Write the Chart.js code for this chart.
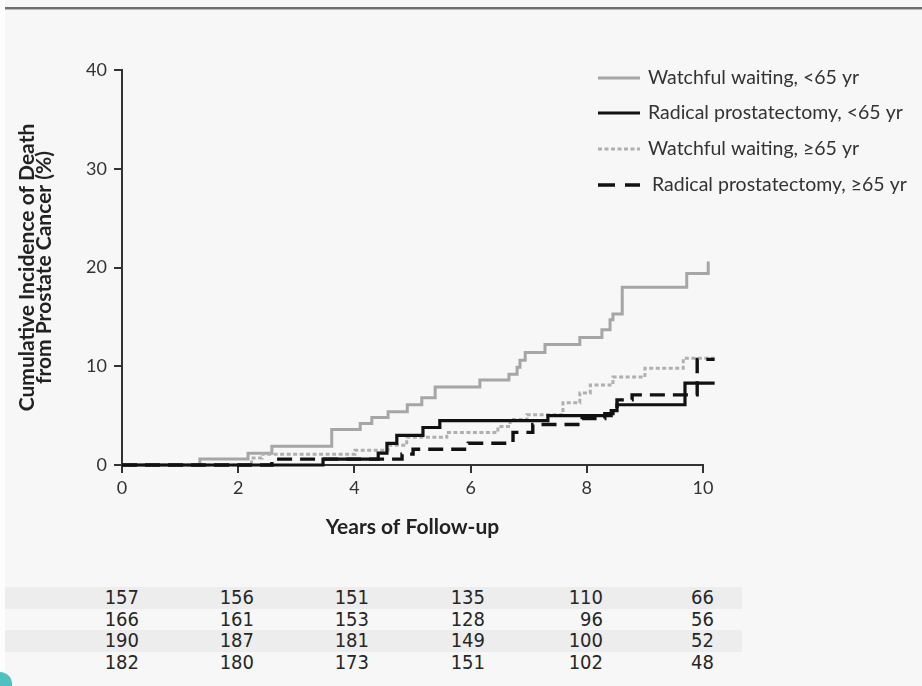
<!DOCTYPE html>
<html>
<head>
<meta charset="utf-8">
<title>Cumulative incidence of death from prostate cancer</title>
<script src="https://cdn.jsdelivr.net/npm/chart.js@4/dist/chart.umd.min.js"></script>
<style>
  html, body { margin: 0; padding: 0; }
  body { width: 922px; height: 686px; background: #f7f7f7; position: relative; overflow: hidden; font-family: Lato, sans-serif; }
  .edge { position: absolute; left: 0; top: 0; width: 5px; height: 686px; background: #fdfdfd; }
  .rule { position: absolute; left: 5px; right: 0; top: 7px; height: 2px; background: #6f6f6f; border-bottom: 1px solid #b8b8b8; }
  #wrap { position: absolute; left: 0; top: 0; width: 922px; height: 560px; }
  #risk { position: absolute; left: 5px; top: 587px; width: 737px; font-family: "Liberation Sans Narrow", "DejaVu Sans Condensed", sans-serif; font-size: 20px; color: #262626; }
  .row { position: relative; height: 21.5px; }
  .row.band { background: #ededed; }
  .row span { position: absolute; top: 0; width: 60px; line-height: 21.5px; text-align: right; }
  .corner { position: absolute; left: -6px; bottom: -6px; width: 18px; height: 20px; border-radius: 0 12px 0 0; background: #4fc2bf; }
</style>
</head>
<body>
<div class="edge"></div>
<div class="rule"></div>
<div id="wrap"><canvas id="incidenceChart" width="922" height="560"></canvas></div>
<div id="risk"></div>
<div class="corner"></div>
<script>
// cumulative incidence (%) by years of follow-up, step curves
const wwYoungYears = [0, 1.34, 2.17, 2.58, 3.61, 4.10, 4.30, 4.58, 4.91, 5.16, 5.39, 6.16, 6.66, 6.80, 6.85, 6.94, 7.28, 7.88, 8.26, 8.40, 8.45, 8.61, 9.72, 10.09, 10.2];
const wwYoungPct   = [0, 0.6, 1.2, 1.9, 3.6, 4.2, 4.8, 5.4, 6.1, 6.8, 7.9, 8.6, 9.2, 9.9, 10.6, 11.4, 12.2, 12.9, 13.7, 14.7, 15.3, 18.0, 19.4, 20.6, 20.6];

const rpYoungYears = [0, 3.46, 4.41, 4.56, 4.73, 5.18, 5.47, 7.33, 8.42, 8.52, 9.69, 10.2];
const rpYoungPct   = [0, 0.6, 1.2, 2.2, 3.0, 3.8, 4.5, 5.0, 5.5, 6.1, 8.3, 8.3];

const wwOldYears = [0, 2.23, 2.41, 4.01, 4.58, 4.90, 5.59, 6.47, 6.68, 6.97, 7.59, 7.88, 8.06, 8.45, 9.00, 9.66, 10.2];
const wwOldPct   = [0, 0.7, 1.1, 1.5, 2.0, 2.8, 3.3, 3.9, 4.6, 5.1, 6.3, 7.3, 8.1, 8.9, 9.8, 10.8, 10.8];

const rpOldYears = [0, 2.58, 4.82, 5.01, 5.96, 6.73, 7.07, 7.92, 8.31, 8.52, 8.78, 9.90, 10.2];
const rpOldPct   = [0, 0.6, 1.1, 1.6, 2.2, 3.3, 4.1, 4.7, 5.2, 6.6, 7.1, 10.7, 10.7];

const seriesLabels = [
  'Watchful waiting, <65 yr',
  'Radical prostatectomy, <65 yr',
  'Watchful waiting, \u226565 yr',
  'Radical prostatectomy, \u226565 yr'
];

const xTicks = [0, 2, 4, 6, 8, 10];
const yTicks = [0, 10, 20, 30, 40];

// numbers at risk under each x tick
const riskWwYoung = [157, 156, 151, 135, 110, 66];
const riskRpYoung = [166, 161, 153, 128, 96, 56];
const riskWwOld   = [190, 187, 181, 149, 100, 52];
const riskRpOld   = [182, 180, 173, 151, 102, 48];

const toPoints = (xs, ys) => xs.map((x, i) => ({ x, y: ys[i] }));

const axisColor = '#333';
const tickFont = { family: 'Lato', size: 18 };

// legend drawn in the upper right corner
const cornerLegend = {
  id: 'cornerLegend',
  afterDraw(chart) {
    const ctx = chart.ctx;
    const rows = [78, 113, 149, 185];
    ctx.save();
    chart.data.datasets.forEach((ds, i) => {
      const y = rows[i];
      ctx.beginPath();
      ctx.lineWidth = ds.borderWidth;
      ctx.strokeStyle = ds.borderColor;
      ctx.setLineDash(ds.legendDash || []);
      ctx.moveTo(598, y);
      ctx.lineTo(640, y);
      ctx.stroke();
      ctx.setLineDash([]);
      ctx.fillStyle = '#333';
      ctx.font = '19.5px Lato';
      ctx.textBaseline = 'middle';
      ctx.fillText(ds.label, i === 3 ? 652 : 648, y);
    });
    ctx.restore();
  }
};

const chart = new Chart(document.getElementById('incidenceChart'), {
  type: 'line',
  data: {
    datasets: [
      {
        label: seriesLabels[0],
        data: toPoints(wwYoungYears, wwYoungPct),
        borderColor: '#a6a6a6',
        borderWidth: 3,
        order: 3
      },
      {
        label: seriesLabels[1],
        data: toPoints(rpYoungYears, rpYoungPct),
        borderColor: '#111',
        borderWidth: 3.2,
        order: 0
      },
      {
        label: seriesLabels[2],
        data: toPoints(wwOldYears, wwOldPct),
        borderColor: '#b0b0b0',
        borderWidth: 3,
        borderDash: [4, 2.5],
        legendDash: [4, 2.5],
        order: 2
      },
      {
        label: seriesLabels[3],
        data: toPoints(rpOldYears, rpOldPct),
        borderColor: '#111',
        borderWidth: 3.4,
        borderDash: [15, 8],
        legendDash: [17, 10],
        order: 1
      }
    ]
  },
  options: {
    responsive: false,
    animation: false,
    events: [],
    layout: { padding: { top: 70, right: 219, left: 0, bottom: 0 } },
    datasets: {
      line: { stepped: true, pointRadius: 0, fill: false, clip: false, borderCapStyle: 'butt' }
    },
    plugins: { legend: { display: false }, tooltip: { enabled: false } },
    scales: {
      x: {
        type: 'linear',
        min: 0,
        max: 10,
        afterBuildTicks: s => { s.ticks = xTicks.map(v => ({ value: v })); },
        afterFit: s => { s.height = 95; },
        ticks: { color: axisColor, font: tickFont, padding: 4, maxRotation: 0 },
        grid: { drawOnChartArea: false, tickLength: 8, color: axisColor, lineWidth: 2 },
        border: { color: axisColor, width: 2 },
        title: {
          display: true,
          text: 'Years of Follow-up',
          color: '#222',
          font: { family: 'Lato', size: 21, weight: 'bold' },
          padding: { top: 0, bottom: 20 }
        }
      },
      y: {
        min: 0,
        max: 40,
        afterBuildTicks: s => { s.ticks = yTicks.map(v => ({ value: v })); },
        afterFit: s => { s.width = 122; },
        ticks: { color: axisColor, font: tickFont, padding: 7 },
        grid: { drawOnChartArea: false, tickLength: 8, color: axisColor, lineWidth: 2 },
        border: { color: axisColor, width: 2 },
        title: {
          display: true,
          text: ['Cumulative Incidence of Death', 'from Prostate Cancer (%)'],
          color: '#222',
          font: { family: 'Lato', size: 21, weight: 'bold', lineHeight: 0.84 },
          padding: { top: 18, bottom: 0 }
        }
      }
    }
  },
  plugins: [cornerLegend]
});

// table of numbers at risk, right-aligned under the ticks
const riskRows = [riskWwYoung, riskRpYoung, riskWwOld, riskRpOld];
const cellRight = [139, 254, 369, 485, 603, 714];
const risk = document.getElementById('risk');
riskRows.forEach((row, r) => {
  const div = document.createElement('div');
  div.className = r % 2 === 0 ? 'row band' : 'row';
  row.forEach((n, c) => {
    const span = document.createElement('span');
    span.textContent = n;
    span.style.left = (cellRight[c] - 5 - 60) + 'px';
    div.appendChild(span);
  });
  risk.appendChild(div);
});
</script>
</body>
</html>
